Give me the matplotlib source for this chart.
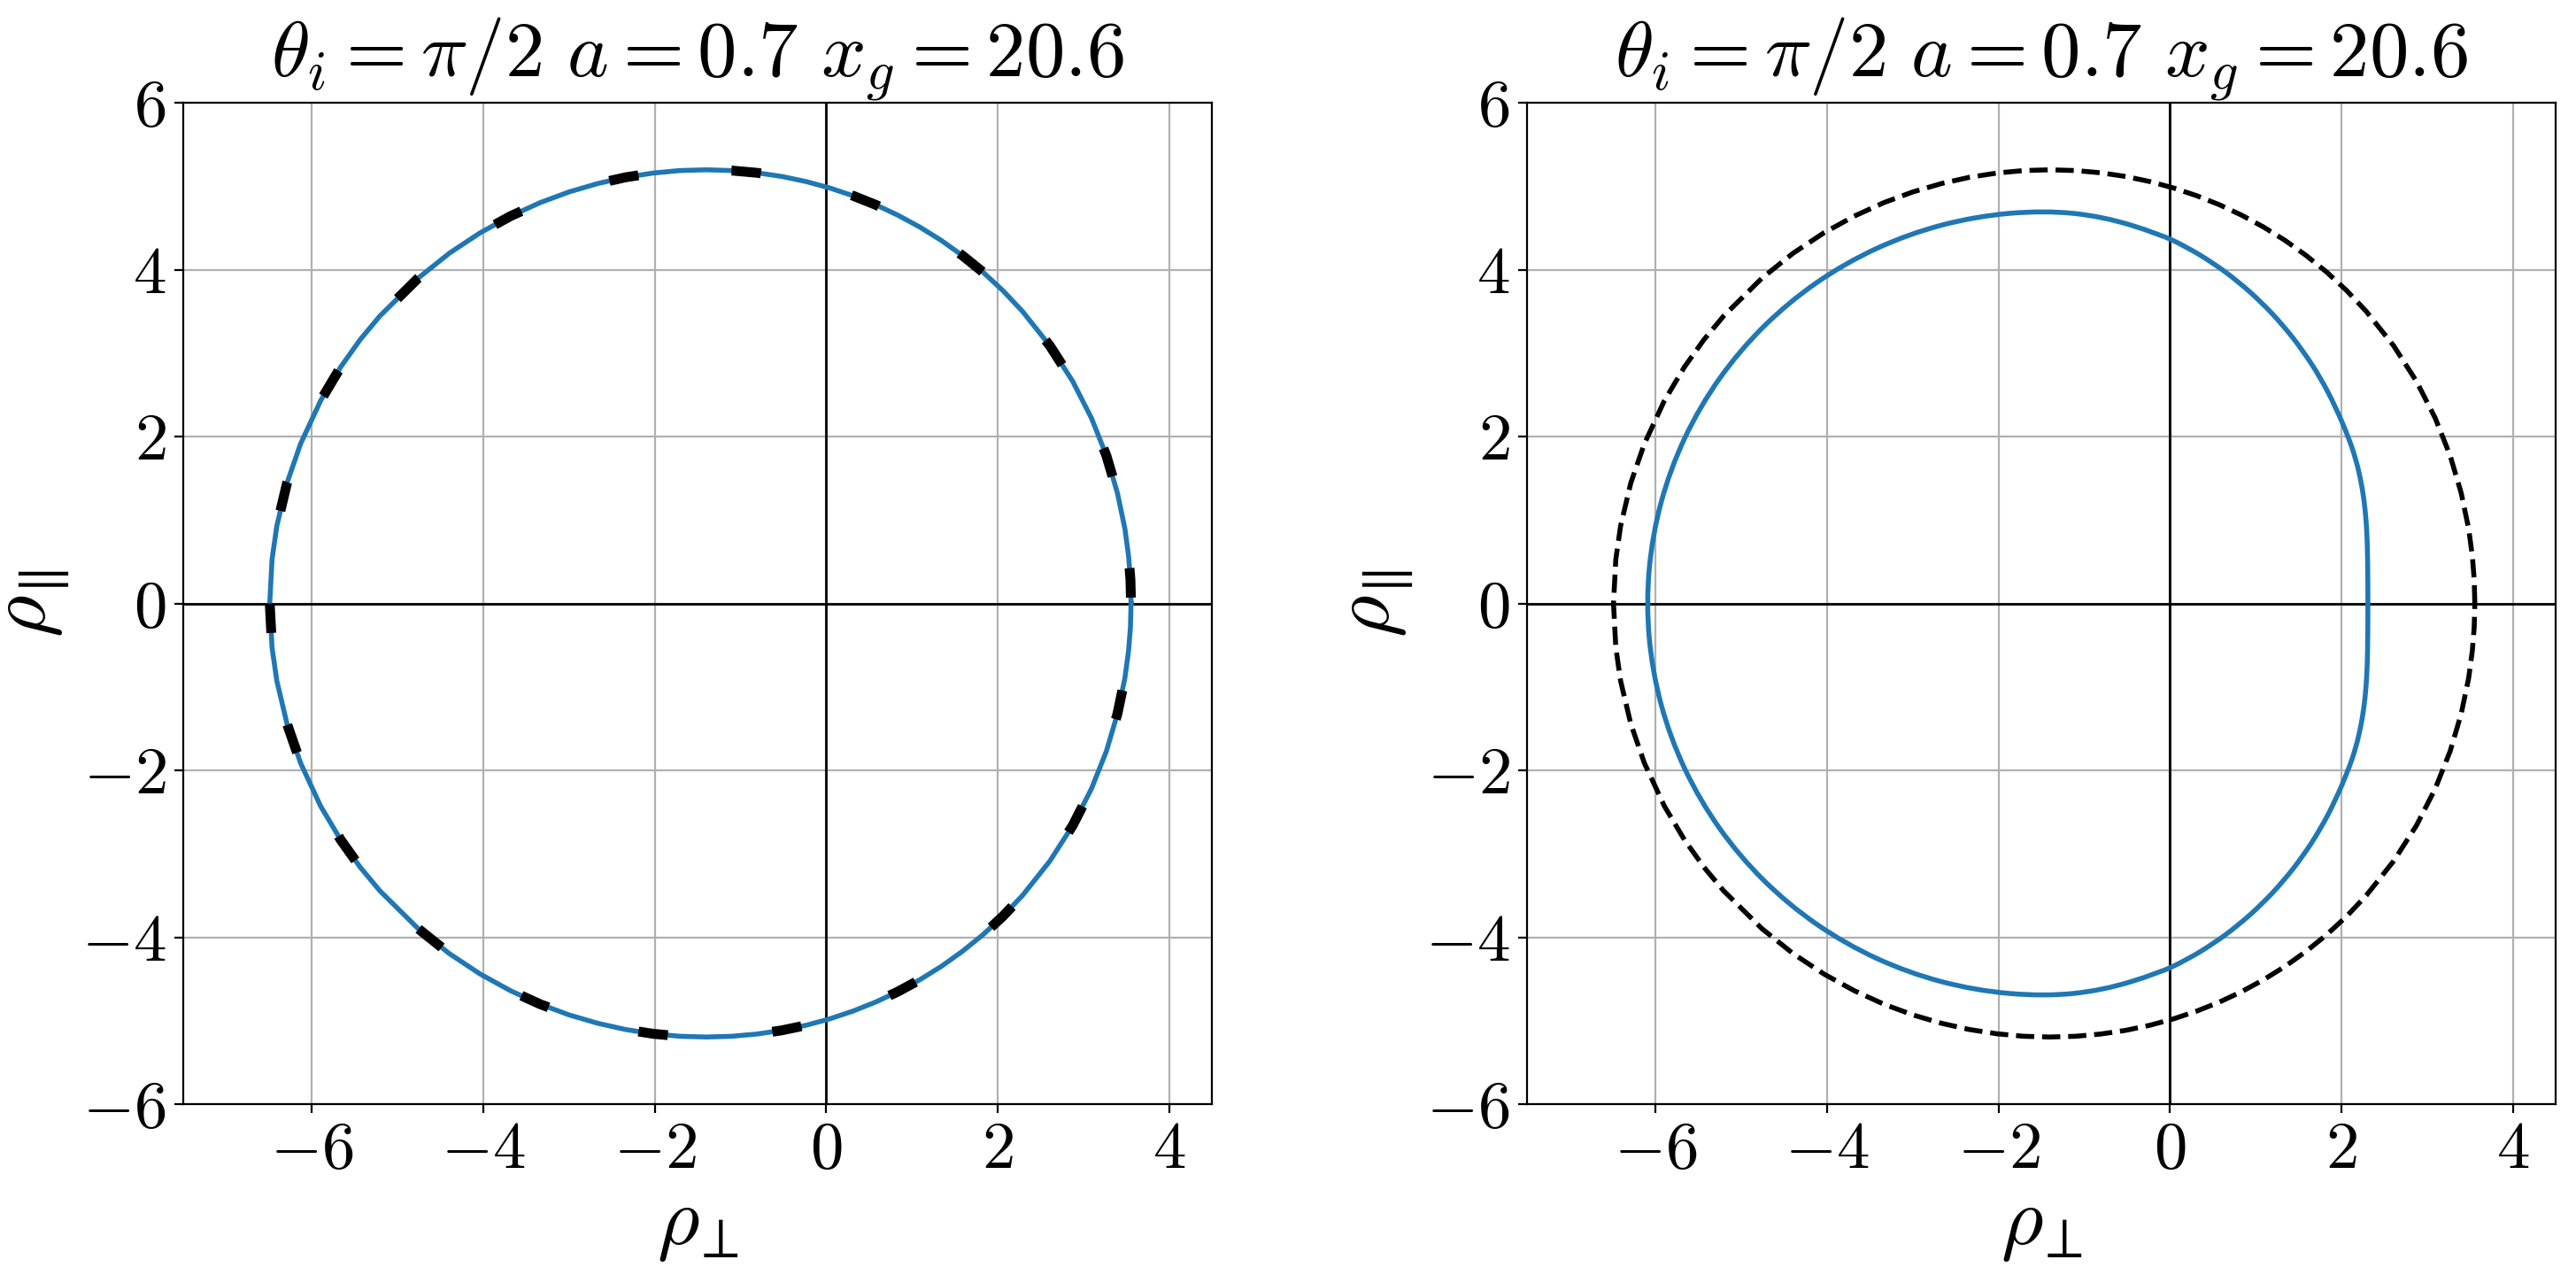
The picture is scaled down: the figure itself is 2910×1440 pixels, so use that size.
import matplotlib
matplotlib.use("Agg")
import matplotlib.pyplot as plt
from matplotlib.path import Path
from matplotlib.patches import PathPatch

plt.rcParams["mathtext.fontset"] = "cm"
plt.rcParams["font.family"] = "serif"
plt.rcParams["font.serif"] = ["cmr10"]
plt.rcParams["axes.formatter.use_mathtext"] = True
plt.rcParams["axes.unicode_minus"] = True

# ---- data ----
title_text = r"$\theta_i = \pi/2\ a = 0.7\ x_g = 20.6$"
x_label = r"$\rho_{\!\perp}$"
y_label = r"$\rho_{\!\parallel}$"
x_ticks = [-6, -4, -2, 0, 2, 4]
y_ticks = [-6, -4, -2, 0, 2, 4, 6]
x_limits = [-7.5, 4.5]
y_limits = [-6, 6]

# reference shadow (upper half, right -> left)
ref_x_upper = [3.557, 3.550, 3.528, 3.485, 3.398, 3.269, 3.095, 2.876, 2.609, 2.292,
               2.062, 1.827, 1.587, 1.343, 1.094, 0.839, 0.580, 0.314, 0.043, -0.233,
               -0.516, -0.805, -1.099, -1.400, -1.707, -2.020, -2.340, -2.666, -2.999,
               -3.338, -3.684, -4.036, -4.395, -4.760, -5.207, -5.435, -5.664, -5.897,
               -6.131, -6.289, -6.408, -6.464, -6.491]
ref_y_upper = [0.000, 0.285, 0.569, 0.897, 1.324, 1.772, 2.221, 2.662, 3.089, 3.498,
               3.749, 3.972, 4.171, 4.350, 4.509, 4.651, 4.776, 4.885, 4.978, 5.055,
               5.116, 5.160, 5.187, 5.196, 5.187, 5.157, 5.106, 5.031, 4.931,
               4.802, 4.640, 4.441, 4.197, 3.897, 3.443, 3.162, 2.832, 2.430,
               1.913, 1.444, 0.929, 0.530, 0.000]

# modified shadow, right panel (upper half, right -> left)
mod_x_upper = [2.310, 2.309, 2.307, 2.302, 2.289, 2.264, 2.223, 2.163, 2.083, 1.933,
               1.758, 1.552, 1.323, 1.069, 0.796, 0.505, 0.199, -0.119, -0.784, -1.470,
               -2.276, -3.057, -3.790, -4.453, -5.024, -5.488, -5.830, -6.039, -6.110]
mod_y_upper = [0.000, 0.250, 0.500, 0.750, 1.000, 1.250, 1.500, 1.750, 1.991, 2.355,
               2.702, 3.028, 3.330, 3.608, 3.858, 4.079, 4.269, 4.426, 4.638, 4.710,
               4.638, 4.426, 4.079, 3.608, 3.028, 2.355, 1.611, 0.818, 0.000]

# closed loops: upper half then mirrored lower half
ref_x = ref_x_upper + ref_x_upper[::-1][1:]
ref_y = ref_y_upper + [-v for v in ref_y_upper[::-1][1:]]
mod_x = mod_x_upper + mod_x_upper[::-1][1:-1]
mod_y = mod_y_upper + [-v for v in mod_y_upper[::-1][1:-1]]


def smooth_closed_path(xs, ys):
    """Quadratic B-spline through the read points (points act as control points)."""
    pts = list(zip(xs, ys))
    n = len(pts)
    mid = lambda p, q: ((p[0] + q[0]) / 2, (p[1] + q[1]) / 2)
    verts = [mid(pts[-1], pts[0])]
    codes = [Path.MOVETO]
    for i in range(n):
        verts += [pts[i], mid(pts[i], pts[(i + 1) % n])]
        codes += [Path.CURVE3, Path.CURVE3]
    return Path(verts, codes)


blue = "#1f77b4"
W, H = 2910, 1440
fig = plt.figure(figsize=(W / 200, H / 200), dpi=200)
ax1 = fig.add_axes([207 / W, 1 - 1247 / H, 1162 / W, 1131 / H])
ax2 = fig.add_axes([1725 / W, 1 - 1247 / H, 1162 / W, 1131 / H])

for ax in (ax1, ax2):
    ax.grid(True, color="#b0b0b0", lw=0.8)
    ax.set_axisbelow(True)
    ax.axhline(0, color="k", lw=1, zorder=1.5)
    ax.axvline(0, color="k", lw=1, zorder=1.5)
    ax.set_xlim(x_limits)
    ax.set_ylim(y_limits)
    ax.set_xticks(x_ticks)
    ax.set_yticks(y_ticks)
    ax.tick_params(labelsize=27)
    ax.set_title(title_text, fontsize=32, pad=8)
    ax.set_xlabel(x_label, fontsize=33, labelpad=4)
    ax.set_ylabel(y_label, fontsize=33, labelpad=4)

# left panel: shadow with reference overlaid (sparse thick dashes)
ax1.plot(ref_x, ref_y, color=blue, lw=2, zorder=3)
ax1.plot(ref_x[::-1][21:] + ref_x[::-1][1:22], ref_y[::-1][21:] + ref_y[::-1][1:22],
         color="k", lw=4, linestyle=(3.4, (3, 9.5)), zorder=4)

# right panel
ax2.add_patch(PathPatch(smooth_closed_path(mod_x, mod_y), fill=False,
                        edgecolor=blue, lw=2, zorder=3))
ax2.plot(ref_x, ref_y, color="k", lw=2, linestyle="--", zorder=3)

fig.savefig("out.png", dpi=200)
